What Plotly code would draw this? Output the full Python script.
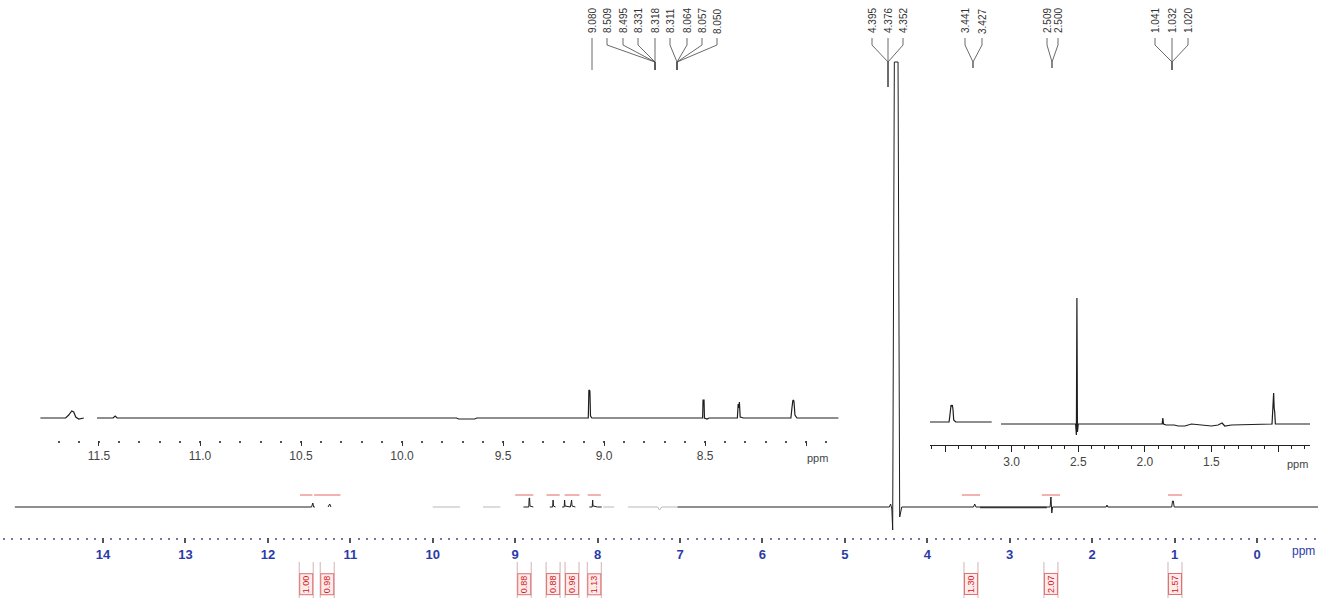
import plotly.graph_objects as go

W, H = 1318, 600

# ---------------- data ----------------
# main 1H spectrum (ppm, intensity in arbitrary units; None = pen up)
main_ppm = [15.07, 11.50, 11.47, 11.455, 11.445, 11.43, None,
            11.27, 11.25, 11.235, None,
            8.90, 8.835, 8.83, 8.825, 8.82, 8.78, None,
            8.58, 8.545, 8.54, 8.535, 8.51, None,
            8.43, 8.405, 8.40, 8.395, 8.33, 8.315, 8.31, 8.27, None,
            8.10, 8.065, 8.06, 8.055, 8.00, 7.95, None,
            7.03, 4.46, 4.445, 4.43, 4.42, 4.40, 4.355, 4.335, 4.31,
            3.44, 3.425, 3.41, 2.51, 2.50, 2.49, 2.48,
            1.83, 1.82, 1.81, 1.035, 1.025, 1.015, 1.005, -0.74]
main_int = [0, 0, 0, 4, 0, 0, None,
            0, 3, 0, None,
            0, 0, 9, 9, 1, 0, None,
            0, 0, 7, 1, 0, None,
            0, 0, 7, 1, 0, 7, 1, 0, None,
            0, 0, 7, 1, 0, 0, None,
            0, 0, 3, -2, -23, 445, 445, -10, 0,
            0, 3, 0, 0, 10, -6, 0,
            0, 2, 0, 0, 6, 6, 0, 0]

# thicker baseline stretch (overlapping multiplets)
thick_ppm = [3.36, 2.55]
thick_int = [-0.5, -0.5]

# faint parts of the main trace
faint_ppm = [10.00, 9.67, None, 9.39, 9.18, None, 7.93, 7.80, None,
             7.63, 7.35, 7.27, 7.25, 7.22, 7.03]
faint_int = [0, 0, None, 0, 0, None, 0, 0, None,
             0, 0, 0, -3, 0, 0]

# expansion 11.8 - 7.8 ppm
ins1_ppm = [11.79, 11.665, 11.65, 11.635, 11.625, 11.615, 11.60, 11.575, None,
            11.51, 11.43, 11.42, 11.41, 9.73, 9.72, 9.64, 9.63,
            9.09, 9.078, 9.075, 9.07, 9.067, 9.06,
            8.52, 8.512, 8.51, 8.505, 8.503, 8.49, 8.48,
            8.34, 8.336, 8.333, 8.33, 8.326, 8.31,
            8.075, 8.07, 8.065, 8.06, 8.055, 8.045, 7.84]
ins1_int = [0, 0, 3, 7, 6, 1, -1, 0, None,
            0, 0, 2, 0, 0, -1, -1, 0,
            0, 0, 28, 27, 2, 0,
            0, 0, 18, 18, 0, -1, 0,
            0, 14, 10, 16, 1, 0,
            0, 10, 18, 17, 3, 0, 0]

# expansion 3.6 - 0.8 ppm
ins2_ppm = [3.613, 3.47, 3.465, 3.46, 3.455, 3.45, 3.445, 3.44, 3.435, 3.42, 3.15, None,
            3.08, 2.52, 2.514, 2.51, 2.506, 2.50, 1.88, 1.87, 1.865, 1.86, 1.84,
            1.78, 1.75, 1.70, 1.65, 1.58, 1.50, 1.45, 1.42, 1.40, 1.35,
            1.045, 1.04, 1.036, 1.033, 1.029, 1.025, 1.02, 0.76]
ins2_int = [0, 0, 5, 15, 17, 16, 17, 12, 2, 0, 0, None,
            -2, -2, -13, 124, -10, -2, -2, -2, 4, -2, -3,
            -3, -4, -4, -2, -3, -4, -3, -1, -4, -3,
            -2, 10, 14, 29, 14, 10, -2, -2]

# integrals
integ_start = [11.61, 11.44, 9.00, 8.62, 8.40, 8.12, 3.58, 2.61, 1.08]
integ_end = [11.46, 11.12, 8.78, 8.46, 8.22, 7.96, 3.36, 2.39, 0.91]
integ_vals = ["1.00", "0.98", "0.88", "0.88", "0.96", "1.13", "1.30", "2.07", "1.57"]

# tick labels
main_tickvals = list(range(14, -1, -1))
main_ticktext = [str(v) for v in main_tickvals]
ins1_tickvals = [11.5, 11.0, 10.5, 10.0, 9.5, 9.0, 8.5, 8.0]
ins1_ticktext = ["11.5", "11.0", "10.5", "10.0", "9.5", "9.0", "8.5", ""]
ins2_tickvals = [3.5, 3.0, 2.5, 2.0, 1.5, 1.0]
ins2_ticktext = ["", "3.0", "2.5", "2.0", "1.5", ""]

# peak-pick labels (groups)
pick_groups = [
    ["9.080", "8.509", "8.495", "8.331", "8.318", "8.311", "8.064", "8.057", "8.050"],
    ["4.395", "4.376", "4.352"],
    ["3.441", "3.427"],
    ["2.509", "2.500"],
    ["1.041", "1.032", "1.020"],
]

# ---------------- layout helpers ----------------
def px(x):
    return x / W

def py(y):
    return 1 - y / H

pick_x = [[592, 607, 623, 638, 655, 670, 687, 702, 717],
          [872, 888, 903], [965, 982], [1047, 1058], [1155, 1172, 1188]]
pick_conv = [[592, 655, 655, 655, 655, 677, 677, 677, 677],
             [888, 888, 888], [973, 973], [1052, 1052], [1172, 1172, 1172]]
pick_end = [70, 87, 68, 68, 70]

fig = go.Figure()

line_col = "#1e1e1e"
fig.add_trace(go.Scatter(x=faint_ppm, y=faint_int, mode="lines",
                         line=dict(color="#b8b8b8", width=1), xaxis="x", yaxis="y",
                         hoverinfo="skip", connectgaps=False))
fig.add_trace(go.Scatter(x=main_ppm, y=main_int, mode="lines",
                         line=dict(color=line_col, width=1), xaxis="x", yaxis="y",
                         connectgaps=False))
fig.add_trace(go.Scatter(x=thick_ppm, y=thick_int, mode="lines",
                         line=dict(color="#333", width=1.6), xaxis="x", yaxis="y",
                         hoverinfo="skip"))
fig.add_trace(go.Scatter(x=ins1_ppm, y=ins1_int, mode="lines",
                         line=dict(color=line_col, width=1.2), xaxis="x2", yaxis="y2",
                         connectgaps=False))
fig.add_trace(go.Scatter(x=ins2_ppm, y=ins2_int, mode="lines",
                         line=dict(color=line_col, width=1.2), xaxis="x3", yaxis="y3",
                         connectgaps=False))

# integral lines
for s, e in zip(integ_start, integ_end):
    fig.add_trace(go.Scatter(x=[s, e], y=[12, 12], mode="lines",
                             line=dict(color="rgba(225,70,70,0.55)", width=1.5),
                             xaxis="x", yaxis="y", hoverinfo="skip"))

annotations = []
shapes = []
ppm_per_px = (15.25 + 0.74) / W
for s, e, v in zip(integ_start, integ_end, integ_vals):
    c = (s + e) / 2
    annotations.append(dict(x=c, y=py(584), xref="x", yref="paper", text=v,
                            xanchor="center", yanchor="middle",
                            textangle=-90, showarrow=False,
                            font=dict(family="Liberation Sans", size=9, color="#d02020"),
                            bgcolor="#fdeaea", bordercolor="#e07070", borderwidth=1,
                            borderpad=1))
    for d in (-7, 7):
        shapes.append(dict(type="line", xref="x", yref="paper",
                           x0=c + d * ppm_per_px, x1=c + d * ppm_per_px,
                           y0=py(562), y1=py(598),
                           line=dict(color="#c8a0a0", width=0.8)))

# peak-pick labels and leader lines
for texts, xs, convs, yend in zip(pick_groups, pick_x, pick_conv, pick_end):
    for t, x, cx in zip(texts, xs, convs):
        annotations.append(dict(x=px(x), y=py(21), xref="paper", yref="paper",
                                xanchor="center", yanchor="middle",
                                text=t, textangle=-90, showarrow=False,
                                font=dict(family="Liberation Sans", size=10, color="#333")))
        shapes.append(dict(type="path", xref="paper", yref="paper",
                           path=f"M {px(x)} {py(38)} L {px(x)} {py(45)} L {px(cx)} {py(62)} L {px(cx)} {py(yend)}",
                           line=dict(color="#444", width=0.8)))

# ppm labels
annotations.append(dict(x=px(1317), y=py(551), xref="paper", yref="paper", text="ppm",
                        xanchor="right", yanchor="middle",
                        showarrow=False, font=dict(family="Liberation Sans", size=12, color="#2b3aa8")))
annotations.append(dict(x=px(817), y=py(458), xref="paper", yref="paper", text="ppm",
                        xanchor="center", yanchor="middle",
                        showarrow=False, font=dict(family="Liberation Sans", size=11, color="#444")))
annotations.append(dict(x=px(1297), y=py(464), xref="paper", yref="paper", text="ppm",
                        xanchor="center", yanchor="middle",
                        showarrow=False, font=dict(family="Liberation Sans", size=11, color="#444")))

fig.update_layout(
    width=W, height=H, margin=dict(l=0, r=0, t=0, b=0),
    paper_bgcolor="white", plot_bgcolor="rgba(0,0,0,0)",
    showlegend=False,
    xaxis=dict(domain=[0, 1], range=[15.25, -0.74], anchor="free", position=py(537),
               showline=False, showgrid=False, zeroline=False,
               ticks="outside", ticklen=5, tickwidth=1.5, tickcolor="#555",
               tickvals=main_tickvals, ticktext=main_ticktext,
               tickfont=dict(family="Liberation Sans", size=13, color="#2b3aa8", weight=700),
               minor=dict(ticks="outside", dtick=0.1, tick0=0, ticklen=2, tickwidth=1.5,
                          tickcolor="#7078a8", showgrid=False)),
    yaxis=dict(domain=[0, 1], range=[-93, 507], visible=False, fixedrange=True),
    xaxis2=dict(domain=[px(40), px(840)], range=[11.792, 7.832], anchor="free",
                position=py(440), showline=False, showgrid=False, zeroline=False,
                ticks="outside", ticklen=5, tickwidth=1, tickcolor="#333",
                tickvals=ins1_tickvals, ticktext=ins1_ticktext,
                tickfont=dict(family="Liberation Sans", size=12, color="#444"),
                minor=dict(ticks="outside", dtick=0.1, tick0=0, ticklen=2, tickwidth=1.5,
                           tickcolor="#555", showgrid=False)),
    yaxis2=dict(domain=[py(470), py(370)], range=[-52, 48], visible=False, anchor="x2"),
    xaxis3=dict(domain=[px(930), px(1310)], range=[3.613, 0.760], anchor="free",
                position=py(445), showline=True, linecolor="#222", linewidth=1,
                showgrid=False, zeroline=False,
                ticks="outside", ticklen=6, tickwidth=1, tickcolor="#222",
                tickvals=ins2_tickvals, ticktext=ins2_ticktext,
                tickfont=dict(family="Liberation Sans", size=12, color="#444"),
                minor=dict(ticks="outside", dtick=0.1, tick0=0, ticklen=3, tickwidth=1,
                           tickcolor="#222", showgrid=False)),
    yaxis3=dict(domain=[py(445), py(290)], range=[-23, 132], visible=False, anchor="x3"),
    annotations=annotations,
    shapes=shapes,
)

fig.write_html("out.html", config={"displayModeBar": False},
               post_script="document.body.style.margin='0';document.body.style.overflow='hidden';")
